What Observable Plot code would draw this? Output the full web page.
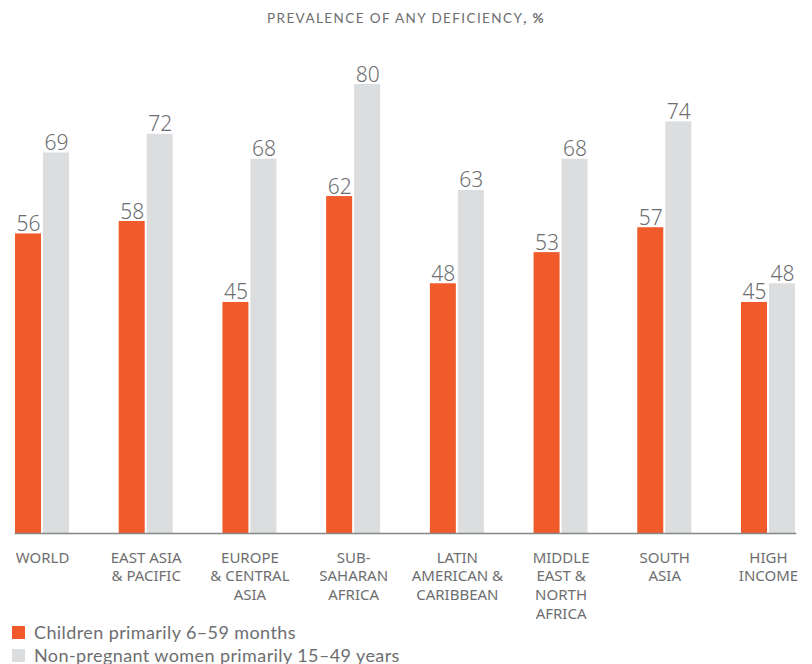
<!DOCTYPE html>
<html>
<head>
<meta charset="utf-8">
<script src="https://cdn.jsdelivr.net/npm/d3@7"></script>
<script src="https://cdn.jsdelivr.net/npm/@observablehq/plot@0.6"></script>
<style>
  body { margin: 0; background: #fff; font-family: Lato, "Open Sans", sans-serif; }
  #title { width: 812px; height: 36px; line-height: 36px; text-align: center; font-size: 13.5px; letter-spacing: 1.4px; color: #6d6e70; }
  #title b { font-weight: 700; }
  #legend { margin-left: 12px; }
  #chart svg { overflow: visible; }
</style>
</head>
<body>
<div id="title">PREVALENCE OF ANY DEFICIENCY<b>, %</b></div>
<div id="chart"></div>
<div id="legend"></div>
<script>
const categories = ["WORLD", "EAST ASIA\n& PACIFIC", "EUROPE\n& CENTRAL\nASIA", "SUB-\nSAHARAN\nAFRICA", "LATIN\nAMERICAN &\nCARIBBEAN", "MIDDLE\nEAST &\nNORTH\nAFRICA", "SOUTH\nASIA", "HIGH\nINCOME"];
const children = [56, 58, 45, 62, 48, 53, 57, 45];
const women = [69, 72, 68, 80, 63, 68, 74, 48];
const seriesNames = ["Children primarily 6–59 months", "Non-pregnant women primarily 15–49 years"];
const seriesColors = ["#F15A2B", "#DCDDDE"];
const yDomain = [7.9, 80];

const data = [];
categories.forEach((c, i) => {
  data.push({cat: c, series: seriesNames[0], value: children[i]});
  data.push({cat: c, series: seriesNames[1], value: women[i]});
});

const chart = Plot.plot({
  width: 812,
  height: 585,
  marginLeft: 15,
  marginRight: 17,
  marginTop: 48,
  marginBottom: 88,
  style: {background: "#fff", overflow: "visible"},
  fx: {domain: categories, paddingInner: 0.4793, paddingOuter: 0, round: false, axis: null, label: null},
  x: {domain: seriesNames, paddingInner: 0.0714, paddingOuter: 0, round: false, axis: null},
  y: {domain: yDomain, axis: null},
  color: {domain: seriesNames, range: seriesColors},
  marks: [
    Plot.barY(data, {fx: "cat", x: "series", y1: yDomain[0], y2: "value", fill: "series"}),
    Plot.frame({anchor: "bottom", stroke: "#858688", strokeWidth: 1.6, facet: "super"}),
    Plot.text(data, {fx: "cat", x: "series", y: "value", text: d => String(d.value), lineAnchor: "bottom", dy: -3, fontSize: 21, fontWeight: 300, fill: "#6d6e70"}),
    Plot.text(categories, {fx: d => d, text: d => d, frameAnchor: "bottom", lineAnchor: "top", dy: 16, lineHeight: 1.245, fontSize: 15, fill: "#6d6e70", textAnchor: "middle", style: {letterSpacing: "0.6px"}})
  ]
});
document.getElementById("chart").appendChild(chart);

const legend = Plot.legend({
  color: {domain: seriesNames, range: seriesColors},
  legend: "swatches",
  columns: 1,
  swatchSize: 13,
  style: {fontSize: "18px", color: "#6d6e70", fontFamily: "Lato, sans-serif", letterSpacing: "0.4px"}
});
document.getElementById("legend").appendChild(legend);
</script>
</body>
</html>
